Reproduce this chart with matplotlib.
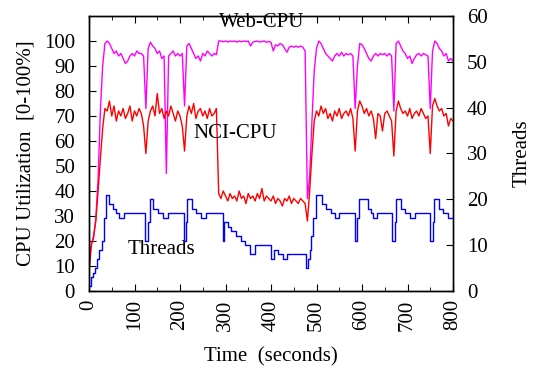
import matplotlib
matplotlib.use("Agg")
import matplotlib.pyplot as plt
from matplotlib.ticker import MultipleLocator

plt.rcParams['font.family'] = ['Liberation Serif', 'DejaVu Serif']

# time grid (seconds), 5 s sampling
time = list(range(0, 801, 5))

web_cpu = [10, 19, 21, 29, 45, 72, 90, 99, 100, 99,
           97, 95, 96, 94, 95, 93, 91, 92, 94, 95,
           94, 96, 95, 95, 94, 73, 97, 99.5, 98, 97,
           95, 96, 93, 94, 47, 94, 95, 96, 94, 95,
           94, 95, 74, 98, 99, 97, 95, 93, 94, 92,
           95, 94, 96, 95, 94, 95, 94.5, 100, 100, 99.7,
           100, 99.6, 100, 99.8, 100, 99.6, 100, 99.7, 100, 99.8,
           100, 98, 99.5, 99.8, 100, 99.6, 99.8, 100, 99.5, 99.8,
           99.5, 96, 98.5, 98, 99, 98.5, 97, 95.5, 97.5, 98,
           97.5, 98, 97.5, 98, 97.5, 96, 37, 46, 68, 88,
           97, 100, 99, 97, 95, 94, 93, 92, 94, 95,
           94, 95.5, 94, 95, 94.5, 95, 94, 73, 90, 99,
           98.5, 97, 95, 93, 92, 94, 95, 94, 95, 94.5,
           95, 94, 95, 94, 72, 99, 100, 98, 96, 95,
           93, 94, 91, 93, 94.5, 95, 94, 95, 94.5, 94,
           73, 96, 100, 99, 97, 96, 94, 95, 92, 93, 92]

# NCI-CPU; first sample (t=0) is the start-up spike
nci_time = [0] + time
nci_cpu = [55,
           7, 18, 22, 28, 40, 53, 65, 73, 72, 76,
           70, 74, 68, 72, 70, 73, 69, 71, 74, 68,
           72, 70, 73, 71, 66, 55, 68, 72, 74, 70,
           79, 71, 73, 69, 72, 70, 74, 71, 68, 72,
           70, 66, 56, 70, 74, 71, 75, 69, 72, 73,
           70, 72, 69, 73, 70, 71, 73, 39, 37, 40,
           38, 36, 39, 37, 38, 36, 40, 37, 38, 35,
           39, 37, 38, 36, 39, 37, 41, 36, 38, 37,
           36, 38, 35, 37, 36, 34, 37, 36, 38, 35,
           37, 36, 35, 37, 36, 35, 28, 40, 55, 68,
           72, 70, 74, 71, 73, 69, 71, 68, 72, 70,
           73, 69, 71, 72, 70, 73, 69, 56, 72, 76,
           74, 71, 73, 70, 72, 69, 61, 71, 70, 64,
           71, 72, 70, 68, 54, 72, 76, 73, 71, 72,
           70, 73, 69, 71, 72, 70, 73, 71, 69, 70,
           55, 74, 77, 74, 72, 73, 70, 71, 66, 69, 68]

# Threads: step changes (time at which the new count starts)
thread_t = [0, 4, 9, 14, 18, 23, 28, 32, 37, 45, 52, 60, 67, 78,
            122, 129, 133, 141, 151, 162, 173,
            208, 213, 215, 226, 236, 246, 257,
            294, 297, 305, 313, 323, 333, 342, 353, 364, 400, 407, 416, 426, 435,
            476, 481, 485, 489, 493, 499, 511, 521, 531, 540, 550,
            584, 590, 593, 613, 620, 624, 633,
            667, 672, 675, 686, 695, 706, 717,
            750, 755, 759, 769, 778, 788, 800]
thread_n = [1, 3, 4, 5, 7, 9, 11, 16, 21, 19, 18, 17, 16, 17,
            11, 15, 20, 18, 17, 16, 17,
            11, 15, 20, 18, 17, 16, 17,
            11, 15, 14, 13, 12, 11, 10, 8, 10, 7, 9, 8, 7, 8,
            5, 7, 9, 12, 16, 21, 19, 18, 17, 16, 17,
            11, 16, 20, 18, 17, 16, 17,
            11, 15, 20, 18, 17, 16, 17,
            11, 15, 20, 18, 17, 16, 16]

fig = plt.figure(figsize=(5.35, 3.70), dpi=100)
ax = fig.add_axes([89/535, 1-291/370, (453-89)/535, (291-16)/370])
ax2 = ax.twinx()

ax.plot(time, web_cpu, color='#ff00ff', lw=1.0)
ax.plot(nci_time, nci_cpu, color='#ff0000', lw=1.0)
ax2.plot(thread_t, thread_n, color='#0000ff', lw=1.0, drawstyle='steps-post')

ax.set_xlim(0, 800)
ax.set_ylim(0, 110)
ax2.set_ylim(0, 60)

ax.set_xticks(range(0, 801, 100))
ax.xaxis.set_minor_locator(MultipleLocator(50))
ax.set_yticks(range(0, 101, 10))
ax2.set_yticks(range(0, 61, 10))

fs = 15
ax.tick_params(axis='x', which='both', direction='in', top=True, labelsize=fs,
               labelrotation=90, pad=6)
ax.tick_params(axis='x', which='major', length=5)
ax.tick_params(axis='x', which='minor', length=3)
ax.tick_params(axis='y', direction='in', right=False, labelsize=fs, length=5, pad=10)
ax2.tick_params(axis='y', direction='in', labelsize=fs, length=5, pad=10)

for a in (ax, ax2):
    for s in a.spines.values():
        s.set_linewidth(1.0)

ax.set_xlabel('Time  (seconds)', fontsize=fs, labelpad=12)
ax.set_ylabel('CPU Utilization  [0-100%]', fontsize=fs, labelpad=6)
ax2.set_ylabel('Threads', fontsize=fs, labelpad=18)

ax.text(380, 107.5, 'Web-CPU', fontsize=fs, ha='center', va='center')
ax.text(321, 63, 'NCI-CPU', fontsize=fs, ha='center', va='center')
ax.text(160, 16.5, 'Threads', fontsize=fs, ha='center', va='center')

fig.savefig('out.png', dpi=100)
